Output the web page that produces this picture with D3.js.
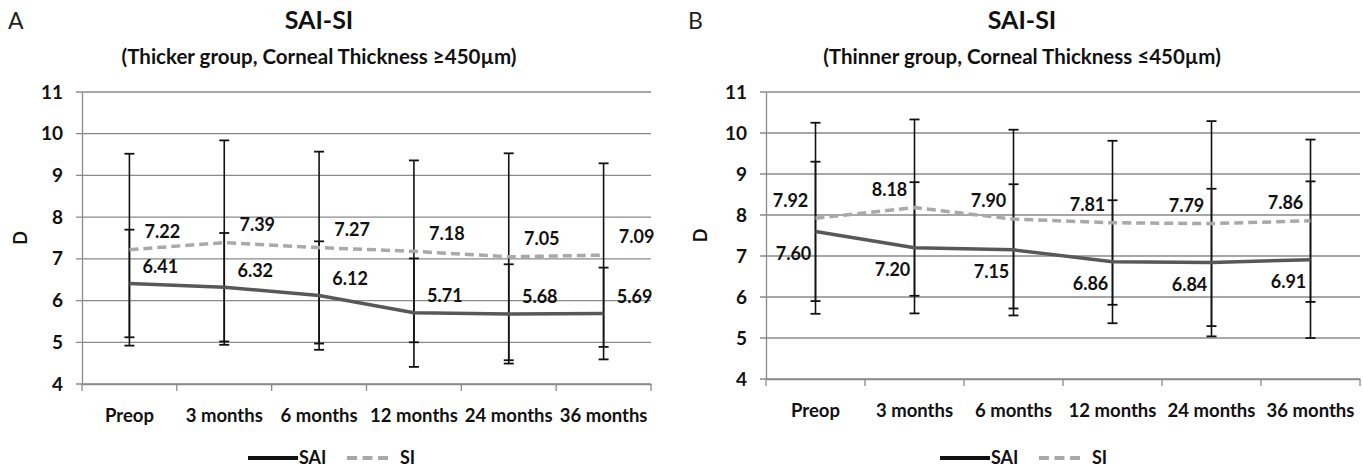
<!DOCTYPE html>
<html><head><meta charset="utf-8">
<script src="https://cdn.jsdelivr.net/npm/d3@7"></script>
<style>
body{margin:0;background:#fff;}
text{font-family:Lato,"Open Sans",sans-serif;}
</style></head>
<body><svg id="chart" width="1363" height="470"></svg>
<script>
const categories = ["Preop","3 months","6 months","12 months","24 months","36 months"];
const yTicks = [4,5,6,7,8,9,10,11];
const seriesNames = ["SAI","SI"];

// Panel A: thicker group
const thickSAI = [6.41,6.32,6.12,5.71,5.68,5.69];
const thickSI  = [7.22,7.39,7.27,7.18,7.05,7.09];
const thickSAIsd = [1.29,1.30,1.30,1.30,1.19,1.10];
const thickSIsd  = [2.30,2.45,2.30,2.18,2.48,2.20];

// Panel B: thinner group
const thinSAI = [7.60,7.20,7.15,6.86,6.84,6.91];
const thinSI  = [7.92,8.18,7.90,7.81,7.79,7.86];
const thinSAIsd = [1.70,1.60,1.60,1.50,1.80,1.91];
const thinSIsd  = [2.33,2.15,2.18,2.00,2.50,1.98];

const svg = d3.select("#chart");

const panels = [
  {letter:"A", title:"SAI-SI", subtitle:"(Thicker group, Corneal Thickness \u2265450\u00b5m)",
   sai:thickSAI, si:thickSI, saiSd:thickSAIsd, siSd:thickSIsd,
   left:0, x0:82, x1:651, yTop:92, yBot:384, titleX:319,
   saiLab:{dx:31,dy:-17}, siLab:{dx:33,dy:-18}, legendX:248},
  {letter:"B", title:"SAI-SI", subtitle:"(Thinner group, Corneal Thickness \u2264450\u00b5m)",
   sai:thinSAI, si:thinSI, saiSd:thinSAIsd, siSd:thinSIsd,
   left:680, x0:766, x1:1360, yTop:92, yBot:379, titleX:1022,
   saiLab:{dx:-22,dy:22}, siLab:{dx:-25,dy:-18}, legendX:940}
];

panels.forEach(p => {
  const g = svg.append("g");
  const x = d3.scaleBand().domain(categories).range([p.x0, p.x1]);
  const y = d3.scaleLinear().domain([4,11]).range([p.yBot, p.yTop]);
  const cx = c => x(c) + x.bandwidth()/2;

  // titles
  g.append("text").attr("x", p.left+8).attr("y", 29).attr("font-size", 23)
    .attr("fill","#222").text(p.letter);
  g.append("text").attr("x", p.titleX).attr("y", 29).attr("text-anchor","middle")
    .attr("font-size", 25).attr("font-weight","bold").attr("fill","#111").text(p.title);
  g.append("text").attr("x", p.titleX).attr("y", 64).attr("text-anchor","middle")
    .attr("font-size", 20.5).attr("font-weight","bold").attr("fill","#111").text(p.subtitle);

  // gridlines
  g.selectAll(".grid").data(yTicks).join("line")
    .attr("x1", p.x0-6).attr("x2", p.x1).attr("y1", d=>y(d)).attr("y2", d=>y(d))
    .attr("stroke","#8a8a8a").attr("stroke-width",1.3);

  // y axis
  const ya = g.append("g").attr("transform",`translate(${p.x0},0)`)
    .call(d3.axisLeft(y).tickValues(yTicks).tickSize(0).tickPadding(19).tickFormat(d3.format("d")));
  ya.select(".domain").attr("stroke","#8a8a8a").attr("stroke-width",1.3);
  ya.selectAll("text").attr("font-size",19).attr("font-weight","bold").attr("fill","#111")
    .style("font-family","Lato,sans-serif");

  // x axis
  const xa = g.append("g").attr("transform",`translate(0,${p.yBot})`)
    .call(d3.axisBottom(x).tickSize(0).tickPadding(25));
  xa.select(".domain").attr("stroke","#8a8a8a").attr("stroke-width",1.3);
  xa.selectAll("text").attr("font-size",18.5).attr("font-weight","bold").attr("fill","#111")
    .style("font-family","Lato,sans-serif");
  const bounds = categories.map(c => x(c)).concat([x.range()[1]]);
  g.selectAll(".xt").data(bounds).join("line")
    .attr("x1", d=>d).attr("x2", d=>d).attr("y1", p.yBot).attr("y2", p.yBot+7)
    .attr("stroke","#8a8a8a").attr("stroke-width",1.3);

  // y label
  g.append("text").attr("transform",`translate(${p.left+27},${(p.yTop+p.yBot)/2}) rotate(-90)`)
    .attr("text-anchor","middle").attr("font-size",18).attr("font-weight","bold")
    .attr("fill","#111").text("D");

  // error bars
  const bars = [];
  categories.forEach((c,i) => {
    bars.push({c, lo:p.sai[i]-p.saiSd[i], hi:p.sai[i]+p.saiSd[i]});
    bars.push({c, lo:p.si[i]-p.siSd[i], hi:p.si[i]+p.siSd[i]});
  });
  g.selectAll(".eb").data(bars).join("line")
    .attr("x1", d=>cx(d.c)).attr("x2", d=>cx(d.c)).attr("y1", d=>y(d.lo)).attr("y2", d=>y(d.hi))
    .attr("stroke","#111").attr("stroke-width",1.6);
  const caps = bars.flatMap(d => [{c:d.c,v:d.lo},{c:d.c,v:d.hi}]);
  g.selectAll(".cap").data(caps).join("line")
    .attr("x1", d=>cx(d.c)-5).attr("x2", d=>cx(d.c)+5).attr("y1", d=>y(d.v)).attr("y2", d=>y(d.v))
    .attr("stroke","#111").attr("stroke-width",1.8);

  // lines
  const line = d3.line().x((d,i)=>cx(categories[i])).y(d=>y(d));
  g.append("path").datum(p.si).attr("d", line).attr("fill","none")
    .attr("stroke","#a9a9a9").attr("stroke-width",3.5).attr("stroke-dasharray","9,5");
  g.append("path").datum(p.sai).attr("d", line).attr("fill","none")
    .attr("stroke","#585858").attr("stroke-width",3.5);

  // data labels
  g.selectAll(".ls").data(p.si).join("text")
    .attr("x",(d,i)=>cx(categories[i])+p.siLab.dx).attr("y",d=>y(d)+p.siLab.dy)
    .attr("dy","0.35em").attr("text-anchor","middle").attr("font-size",18).attr("font-weight","bold")
    .attr("fill","#111").text(d=>d.toFixed(2));
  g.selectAll(".la").data(p.sai).join("text")
    .attr("x",(d,i)=>cx(categories[i])+p.saiLab.dx).attr("y",d=>y(d)+p.saiLab.dy)
    .attr("dy","0.35em").attr("text-anchor","middle").attr("font-size",18).attr("font-weight","bold")
    .attr("fill","#111").text(d=>d.toFixed(2));

  // legend
  const ly = 458;
  const lg = g.append("g");
  lg.append("line").attr("x1",p.legendX).attr("x2",p.legendX+50).attr("y1",ly).attr("y2",ly)
    .attr("stroke","#111").attr("stroke-width",4);
  lg.append("text").attr("x",p.legendX+51).attr("y",ly).attr("dy","0.35em").attr("font-size",18)
    .attr("font-weight","bold").attr("fill","#111").text(seriesNames[0]);
  lg.append("line").attr("x1",p.legendX+99).attr("x2",p.legendX+140).attr("y1",ly).attr("y2",ly)
    .attr("stroke","#a9a9a9").attr("stroke-width",4).attr("stroke-dasharray","10,5.5");
  lg.append("text").attr("x",p.legendX+152).attr("y",ly).attr("dy","0.35em").attr("font-size",18)
    .attr("font-weight","bold").attr("fill","#111").text(seriesNames[1]);
});
</script></body></html>
